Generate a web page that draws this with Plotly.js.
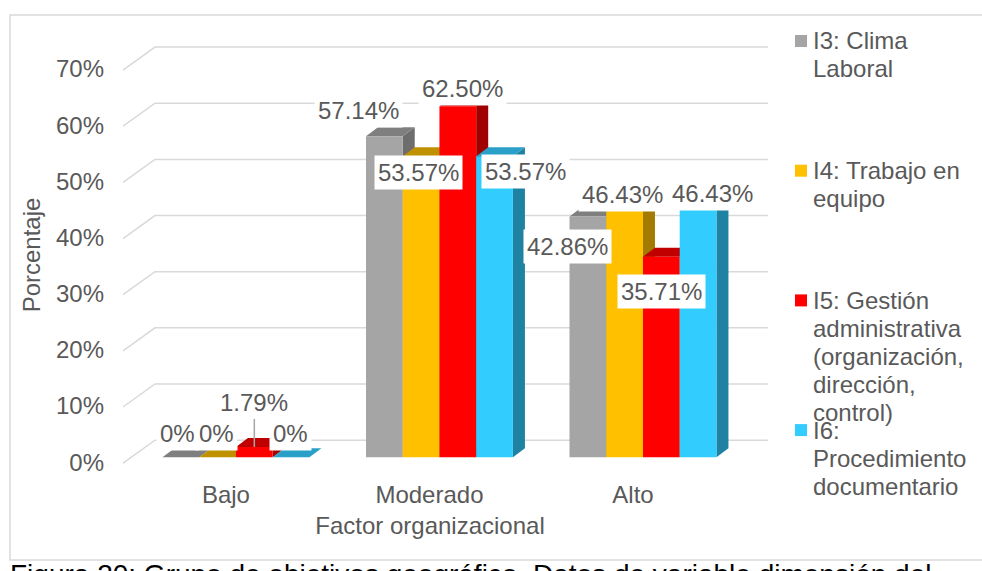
<!DOCTYPE html>
<html><head><meta charset="utf-8">
<script src="https://cdn.plot.ly/plotly-3.0.1.min.js"></script>
<style>html,body{margin:0;padding:0;background:#fff;overflow:hidden}</style>
</head><body><div id="chart" style="width:982px;height:571px"></div>
<script>
// ---------- data ----------
const categories = ['Bajo', 'Moderado', 'Alto'];
const seriesNames = [
  'I3: Clima<br>Laboral',
  'I4: Trabajo en<br>equipo',
  'I5: Gestión<br>administrativa<br>(organización,<br>dirección,<br>control)',
  'I6:<br>Procedimiento<br>documentario'
];
const clima = [0, 57.14, 42.86];
const trabajo = [0, 53.57, 46.43];
const gestion = [1.79, 62.50, 35.71];
const procedimiento = [0, 53.57, 46.43];
const yTickVals = [0, 10, 20, 30, 40, 50, 60, 70];
const yTickText = ['0%', '10%', '20%', '30%', '40%', '50%', '60%', '70%'];
const xTitle = 'Factor organizacional';
const yTitle = 'Porcentaje';
const caption = 'Figura 20: Grupo de objetivos geográfico. Datos de variable dimensión del';

// ---------- style ----------
const series = [clima, trabajo, gestion, procedimiento];
const frontColors = ['#a5a5a5', '#ffc000', '#ff0000', '#33ccff'];
const topColors = ['#7f7f7f', '#bf9000', '#c00000', '#2a9fc8'];
const sideColors = ['#6d6d6d', '#a37b00', '#a00000', '#1f82a3'];
const txt = '#595959';
const FONT = '"Liberation Sans", Arial, sans-serif';
const W = 982, H = 571;
const M = {l: 123, r: 245, t: 36, b: 97};
const xRange = [-0.555, 2.462];
const yRange = [-3, 75];
const bargap = 0.278;
const plotW = W - M.l - M.r, plotH = H - M.t - M.b;
const pxPerCat = plotW / (xRange[1] - xRange[0]);
const pxPerPct = plotH / (yRange[1] - yRange[0]);
const depthX = 12 / pxPerCat, depthY = 9 / pxPerPct;
const barW = (1 - bargap) / series.length;
const px2x = p => (p - M.l) / plotW;
const py2y = p => (H - M.b - p) / plotH;

// label offsets in px [dx, dy(down)], per series, per category
const labelOff = [
  [[-3, -24], [-26, -26], [-20, 30]],
  [[-1, -24], [-2.5, 16], [-2.5, -2]],
  [[0, -45], [4.5, -18], [0, 34.5]],
  [[-1, -24], [30.5, 15], [14.5, -3]]
];

const traces = series.map((vals, i) => ({
  type: 'bar', x: categories, y: vals, name: seriesNames[i],
  marker: {color: frontColors[i], line: {width: 0}},
  showlegend: false, hoverinfo: 'skip'
}));

const shapes = [];
// chart border
shapes.push({type: 'rect', xref: 'paper', yref: 'paper', x0: px2x(10), x1: px2x(995), y0: py2y(560), y1: py2y(15),
  line: {color: '#d9d9d9', width: 1.5}, fillcolor: 'rgba(0,0,0,0)', layer: 'below'});
// 3D gridlines
const gFront = 6 / pxPerPct, gBack = 17 / pxPerPct;
yTickVals.forEach(v => {
  shapes.push({type: 'path', xref: 'paper', yref: 'y', layer: 'below',
    path: `M 0,${v - gFront} L ${px2x(155)},${v + gBack} L ${px2x(768)},${v + gBack}`,
    line: {color: '#d9d9d9', width: 1.5}});
});
// 3D faces of bars
series.forEach((vals, i) => {
  vals.forEach((v, j) => {
    const x0 = j + (i - series.length / 2) * barW;
    const x1 = x0 + barW;
    shapes.push({type: 'path', xref: 'x', yref: 'y', layer: 'between',
      path: `M ${x1},0 L ${x1},${v} L ${x1 + depthX},${v + depthY} L ${x1 + depthX},${depthY} Z`,
      fillcolor: sideColors[i], line: {width: 0}});
    shapes.push({type: 'path', xref: 'x', yref: 'y', layer: 'between',
      path: `M ${x0},${v} L ${x1},${v} L ${x1 + depthX},${v + depthY} L ${x0 + depthX},${v + depthY} Z`,
      fillcolor: topColors[i], line: {width: 0}});
  });
});

const annotations = [];
// data labels
series.forEach((vals, i) => {
  vals.forEach((v, j) => {
    const xc = j + (i - (series.length - 1) / 2) * barW;
    const [dx, dy] = labelOff[i][j];
    const text = v === 0 ? '0%' : v.toFixed(2) + '%';
    const a = {xref: 'x', yref: 'y', x: xc, y: v, text: text,
      font: {family: FONT, size: 24, color: txt}, bgcolor: '#ffffff', borderpad: 3};
    if (i === 2 && j === 0) {
      Object.assign(a, {showarrow: true, arrowhead: 0, arrowwidth: 1.5, arrowcolor: '#a6a6a6', ax: dx, ay: dy, standoff: 0});
    } else {
      Object.assign(a, {showarrow: false, xshift: dx, yshift: -dy});
    }
    annotations.push(a);
  });
});
// legend (Excel style, fixed slots)
const legY0 = 41, legStep = 129.7, lineStep = 28;
seriesNames.forEach((name, i) => {
  const y0 = legY0 + i * legStep;
  shapes.push({type: 'rect', xref: 'paper', yref: 'paper', x0: px2x(795), x1: px2x(807), y0: py2y(y0 + 6), y1: py2y(y0 - 6),
    fillcolor: frontColors[i], line: {width: 0}});
  name.split('<br>').forEach((ln, k) => {
    annotations.push({xref: 'paper', yref: 'paper', x: px2x(811), y: py2y(y0 + k * lineStep), xanchor: 'left', yanchor: 'middle',
      text: ln, showarrow: false, font: {family: FONT, size: 24, color: txt}});
  });
});
// caption
annotations.push({xref: 'paper', yref: 'paper', x: px2x(9), y: py2y(558), xanchor: 'left', yanchor: 'top',
  text: caption, showarrow: false, borderpad: 0, font: {family: FONT, size: 28, color: '#000000'}});

const layout = {
  width: W, height: H, margin: M, paper_bgcolor: '#ffffff', plot_bgcolor: 'rgba(0,0,0,0)',
  barmode: 'group', bargap: bargap, bargroupgap: 0, showlegend: false,
  font: {family: FONT, size: 24, color: txt},
  xaxis: {type: 'category', range: xRange, showgrid: false, zeroline: false, showline: false, ticks: '',
    tickfont: {family: FONT, size: 24, color: txt}, ticklabelshift: -10, ticklabelstandoff: 4, automargin: false,
    title: {text: xTitle, font: {family: FONT, size: 24, color: txt}, standoff: 10}},
  yaxis: {range: yRange, showgrid: false, zeroline: false, showline: false, ticks: '',
    tickvals: yTickVals, ticktext: yTickText, tickfont: {family: FONT, size: 24, color: txt},
    ticklabelshift: 5, ticklabelstandoff: 18, automargin: false,
    title: {text: yTitle, font: {family: FONT, size: 24, color: txt}, standoff: 8}},
  shapes: shapes, annotations: annotations
};
Plotly.newPlot('chart', traces, layout, {staticPlot: true, displayModeBar: false});
</script></body></html>
